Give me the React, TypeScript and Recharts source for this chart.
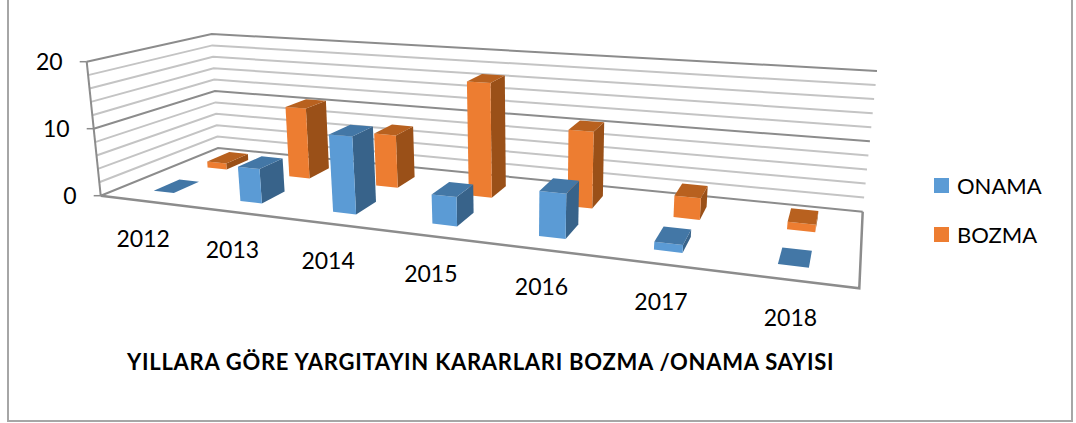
import { BarChart, Bar, XAxis, YAxis, CartesianGrid } from "recharts";

const years = ["2012", "2013", "2014", "2015", "2016", "2017", "2018"];
const onama = [0, 5, 11, 4, 6, 1, 0];
const bozma = [1, 11, 8, 17, 11, 3, 1];
const yTicks = [0, 2, 4, 6, 8, 10, 12, 14, 16, 18, 20];
const labelledTicks = [0, 10, 20];
const seriesNames = ["ONAMA", "BOZMA"];
const seriesColors = ["#5B9BD5", "#ED7D31"];

const data = years.map((year, i) => ({ year, ONAMA: onama[i], BOZMA: bozma[i] }));

const W = 1076;
const H = 423;
const plot = { left: 30, top: 20, width: 1000, height: 380 };
const font = "Lato, 'Open Sans', sans-serif";

type Pt = [number, number];

// square -> quad homography, (0,0) front left, (1,0) front right, (1,1) back right, (0,1) back left
function homography(p0: Pt, p1: Pt, p2: Pt, p3: Pt) {
  const dx1 = p1[0] - p2[0], dx2 = p3[0] - p2[0], sx = p0[0] - p1[0] + p2[0] - p3[0];
  const dy1 = p1[1] - p2[1], dy2 = p3[1] - p2[1], sy = p0[1] - p1[1] + p2[1] - p3[1];
  const den = dx1 * dy2 - dx2 * dy1;
  const g = (sx * dy2 - dx2 * sy) / den;
  const h = (dx1 * sy - sx * dy1) / den;
  const a = p1[0] - p0[0] + g * p1[0], b = p3[0] - p0[0] + h * p3[0];
  const d = p1[1] - p0[1] + g * p1[1], e = p3[1] - p0[1] + h * p3[1];
  return (u: number, v: number): Pt => {
    const w = g * u + h * v + 1;
    return [(a * u + b * v + p0[0]) / w, (d * u + e * v + p0[1]) / w];
  };
}

const floor = homography([100.7, 195.7], [859.3, 288.3], [862.7, 211.7], [218, 148]);
const ceiling = homography([86.7, 61.7], [884, 118], [877, 71], [211.7, 34]);

// u along the years, d into the page, h up the value axis (all 0..1)
function project(u: number, d: number, h: number): Pt {
  const a = floor(u, d), b = ceiling(u, d);
  return [a[0] + (b[0] - a[0]) * h, a[1] + (b[1] - a[1]) * h];
}

const toU = (x: number) => (x - plot.left) / plot.width;
const toH = (y: number) => (plot.top + plot.height - y) / plot.height;
const poly = (pts: Pt[]) => pts.map((p) => p.map((n) => n.toFixed(1)).join(",")).join(" ");

function makeBox(d0: number, d1: number, front: string, top: string, side: string) {
  return (props: any) => {
    const u0 = toU(props.x), u1 = toU(props.x + props.width);
    const h = toH(props.y);
    return (
      <g>
        <polygon points={poly([project(u1, d0, 0), project(u1, d1, 0), project(u1, d1, h), project(u1, d0, h)])} fill={side} />
        <polygon points={poly([project(u0, d0, 0), project(u1, d0, 0), project(u1, d0, h), project(u0, d0, h)])} fill={front} />
        <polygon points={poly([project(u0, d0, h), project(u1, d0, h), project(u1, d1, h), project(u0, d1, h)])} fill={top} />
      </g>
    );
  };
}

const frontBox = makeBox(0.16, 0.37, "#5B9BD5", "#4377A6", "#38638A");
const backBox = makeBox(0.62, 0.83, "#ED7D31", "#B8611F", "#9A5018");

// walls and floor: every value gridline runs along the side wall and the back wall
function GridLine(props: any) {
  const h = toH(props.y1);
  const major = labelledTicks.some((t) => Math.abs(h - t / 20) < 0.001);
  const stroke = major ? "#8C8C8C" : "#C4C4C4";
  const wall = poly([project(0, 0, h), project(0, 1, h), project(1, 1, h)]);
  return (
    <g>
      <polyline points={wall} fill="none" stroke={stroke} strokeWidth={2} />
      {Math.abs(h) < 0.001 && (
        <polyline points={poly([project(0, 0, 0), project(1, 0, 0), project(1, 1, 0)])} fill="none" stroke="#8C8C8C" strokeWidth={2.5} />
      )}
      {Math.abs(h - 1) < 0.001 && (
        <line x1={project(0, 0, 0)[0]} y1={project(0, 0, 0)[1]} x2={project(0, 0, 1)[0]} y2={project(0, 0, 1)[1]} stroke="#8C8C8C" strokeWidth={2} />
      )}
    </g>
  );
}

function YearTick({ x, payload }: any) {
  const [px, py] = project(toU(payload.coordinate ?? x), 0, 0);
  return (
    <text x={px} y={py + 40} textAnchor="middle" dominantBaseline="middle" fontFamily={font} fontSize={23} fill="#000">
      {payload.value}
    </text>
  );
}

function ValueTick({ y, payload }: any) {
  if (!labelledTicks.includes(payload.value)) return <g />;
  const [px, py] = project(0, 0, toH(payload.coordinate ?? y));
  return (
    <g>
      <line x1={px - 7} y1={py} x2={px} y2={py} stroke="#8C8C8C" strokeWidth={1.5} />
      <text x={px - 24} y={py + 2} textAnchor="end" dominantBaseline="middle" fontFamily={font} fontSize={23} fill="#000">
        {payload.value}
      </text>
    </g>
  );
}

export default function App() {
  return (
    <div style={{ position: "absolute", left: 0, top: 0, width: W, height: H, background: "white" }}>
      <div style={{ position: "absolute", left: 7, top: -4, width: 1062, height: 424, border: "2px solid #A6A6A6", borderTop: "none" }} />
      <BarChart
        width={W}
        height={H}
        data={data}
        barCategoryGap="38%"
        margin={{ top: plot.top, left: plot.left - 1, right: W - plot.left - plot.width, bottom: H - plot.top - plot.height - 1 }}
        style={{ position: "absolute", left: 0, top: 0 }}
      >
        <CartesianGrid vertical={false} horizontal={GridLine as any} yAxisId="v" xAxisId="front" />
        <XAxis xAxisId="front" dataKey="year" height={1} interval={0} axisLine={false} tickLine={false} tick={YearTick as any} />
        <XAxis xAxisId="back" dataKey="year" hide />
        <YAxis yAxisId="v" type="number" domain={[0, 20]} ticks={yTicks} width={1} interval={0} axisLine={false} tickLine={false} tick={ValueTick as any} />
        <Bar dataKey="BOZMA" xAxisId="back" yAxisId="v" fill="#ED7D31" shape={backBox} isAnimationActive={false} />
        <Bar dataKey="ONAMA" xAxisId="front" yAxisId="v" fill="#5B9BD5" shape={frontBox} isAnimationActive={false} />
      </BarChart>
      <div style={{ position: "absolute", left: 934, top: 161, fontFamily: font, fontSize: 22, color: "#000" }}>
        {seriesNames.map((name, i) => (
          <div key={name} style={{ display: "flex", alignItems: "center", height: 49 }}>
            <div style={{ width: 15, height: 15, background: seriesColors[i], marginRight: 8 }} />
            <span>{name}</span>
          </div>
        ))}
      </div>
      <div style={{ position: "absolute", left: 127, top: 348, whiteSpace: "nowrap", fontFamily: font, fontWeight: 700, fontSize: 22, letterSpacing: 0.73, color: "#000" }}>
        YILLARA GÖRE YARGITAYIN KARARLARI BOZMA /ONAMA SAYISI
      </div>
    </div>
  );
}
